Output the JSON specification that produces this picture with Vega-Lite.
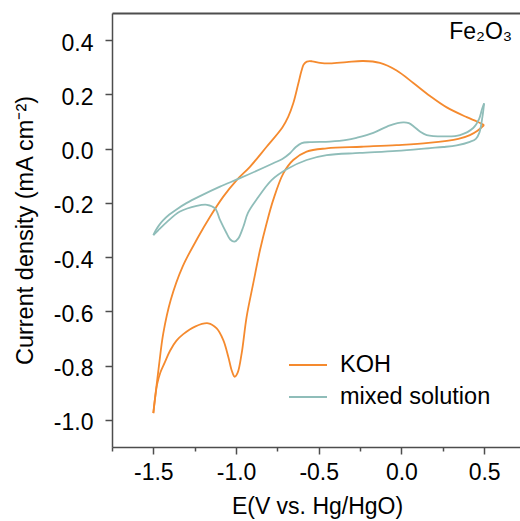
{
  "$schema": "https://vega.github.io/schema/vega-lite/v6.json",
  "width": 408,
  "height": 434,
  "autosize": {"type": "none"},
  "padding": {"left": 112, "top": 13, "right": 0, "bottom": 74},
  "config": {"view": {"stroke": null}, "font": "Liberation Sans"},
  "layer": [
    {
      "data": {"values": [
        {"s":"KOH","b":"lo","i":1,"x":-1.500,"y":-0.975},
        {"s":"KOH","b":"lo","i":2,"x":-1.490,"y":-0.922},
        {"s":"KOH","b":"lo","i":3,"x":-1.477,"y":-0.868},
        {"s":"KOH","b":"lo","i":4,"x":-1.458,"y":-0.826},
        {"s":"KOH","b":"lo","i":5,"x":-1.432,"y":-0.790},
        {"s":"KOH","b":"lo","i":6,"x":-1.399,"y":-0.745},
        {"s":"KOH","b":"lo","i":7,"x":-1.360,"y":-0.708},
        {"s":"KOH","b":"lo","i":8,"x":-1.319,"y":-0.684},
        {"s":"KOH","b":"lo","i":9,"x":-1.248,"y":-0.656},
        {"s":"KOH","b":"lo","i":10,"x":-1.168,"y":-0.644},
        {"s":"KOH","b":"lo","i":11,"x":-1.117,"y":-0.663},
        {"s":"KOH","b":"lo","i":12,"x":-1.077,"y":-0.706},
        {"s":"KOH","b":"lo","i":13,"x":-1.047,"y":-0.767},
        {"s":"KOH","b":"lo","i":14,"x":-1.025,"y":-0.820},
        {"s":"KOH","b":"lo","i":15,"x":-1.008,"y":-0.841},
        {"s":"KOH","b":"lo","i":16,"x":-0.990,"y":-0.826},
        {"s":"KOH","b":"lo","i":17,"x":-0.966,"y":-0.755},
        {"s":"KOH","b":"lo","i":18,"x":-0.936,"y":-0.620},
        {"s":"KOH","b":"lo","i":19,"x":-0.896,"y":-0.497},
        {"s":"KOH","b":"lo","i":20,"x":-0.855,"y":-0.374},
        {"s":"KOH","b":"lo","i":21,"x":-0.815,"y":-0.275},
        {"s":"KOH","b":"lo","i":22,"x":-0.775,"y":-0.189},
        {"s":"KOH","b":"lo","i":23,"x":-0.714,"y":-0.091},
        {"s":"KOH","b":"lo","i":24,"x":-0.654,"y":-0.042},
        {"s":"KOH","b":"lo","i":25,"x":-0.573,"y":-0.011},
        {"s":"KOH","b":"lo","i":26,"x":-0.452,"y":0.001},
        {"s":"KOH","b":"lo","i":27,"x":-0.241,"y":0.007},
        {"s":"KOH","b":"lo","i":28,"x":-0.029,"y":0.013},
        {"s":"KOH","b":"lo","i":29,"x":0.163,"y":0.021},
        {"s":"KOH","b":"lo","i":30,"x":0.344,"y":0.036},
        {"s":"KOH","b":"lo","i":31,"x":0.414,"y":0.050},
        {"s":"KOH","b":"lo","i":32,"x":0.460,"y":0.066},
        {"s":"KOH","b":"lo","i":33,"x":0.500,"y":0.087},
        {"s":"KOH","b":"up","i":1,"x":0.500,"y":0.087},
        {"s":"KOH","b":"up","i":2,"x":0.457,"y":0.100},
        {"s":"KOH","b":"up","i":3,"x":0.395,"y":0.116},
        {"s":"KOH","b":"up","i":4,"x":0.274,"y":0.152},
        {"s":"KOH","b":"up","i":5,"x":0.173,"y":0.194},
        {"s":"KOH","b":"up","i":6,"x":0.072,"y":0.242},
        {"s":"KOH","b":"up","i":7,"x":-0.029,"y":0.288},
        {"s":"KOH","b":"up","i":8,"x":-0.130,"y":0.316},
        {"s":"KOH","b":"up","i":9,"x":-0.231,"y":0.323},
        {"s":"KOH","b":"up","i":10,"x":-0.331,"y":0.319},
        {"s":"KOH","b":"up","i":11,"x":-0.432,"y":0.314},
        {"s":"KOH","b":"up","i":12,"x":-0.492,"y":0.316},
        {"s":"KOH","b":"up","i":13,"x":-0.540,"y":0.322},
        {"s":"KOH","b":"up","i":14,"x":-0.572,"y":0.321},
        {"s":"KOH","b":"up","i":15,"x":-0.591,"y":0.310},
        {"s":"KOH","b":"up","i":16,"x":-0.605,"y":0.285},
        {"s":"KOH","b":"up","i":17,"x":-0.623,"y":0.241},
        {"s":"KOH","b":"up","i":18,"x":-0.654,"y":0.167},
        {"s":"KOH","b":"up","i":19,"x":-0.684,"y":0.118},
        {"s":"KOH","b":"up","i":20,"x":-0.720,"y":0.078},
        {"s":"KOH","b":"up","i":21,"x":-0.815,"y":0.007},
        {"s":"KOH","b":"up","i":22,"x":-0.916,"y":-0.067},
        {"s":"KOH","b":"up","i":23,"x":-0.996,"y":-0.116},
        {"s":"KOH","b":"up","i":24,"x":-1.077,"y":-0.177},
        {"s":"KOH","b":"up","i":25,"x":-1.157,"y":-0.251},
        {"s":"KOH","b":"up","i":26,"x":-1.228,"y":-0.325},
        {"s":"KOH","b":"up","i":27,"x":-1.323,"y":-0.435},
        {"s":"KOH","b":"up","i":28,"x":-1.395,"y":-0.558},
        {"s":"KOH","b":"up","i":29,"x":-1.440,"y":-0.681},
        {"s":"KOH","b":"up","i":30,"x":-1.466,"y":-0.800},
        {"s":"KOH","b":"up","i":31,"x":-1.486,"y":-0.900},
        {"s":"KOH","b":"up","i":32,"x":-1.500,"y":-0.975},
        {"s":"mixed solution","b":"up","i":1,"x":-1.500,"y":-0.319},
        {"s":"mixed solution","b":"up","i":2,"x":-1.486,"y":-0.302},
        {"s":"mixed solution","b":"up","i":3,"x":-1.466,"y":-0.283},
        {"s":"mixed solution","b":"up","i":4,"x":-1.440,"y":-0.264},
        {"s":"mixed solution","b":"up","i":5,"x":-1.405,"y":-0.244},
        {"s":"mixed solution","b":"up","i":6,"x":-1.360,"y":-0.224},
        {"s":"mixed solution","b":"up","i":7,"x":-1.300,"y":-0.201},
        {"s":"mixed solution","b":"up","i":8,"x":-1.218,"y":-0.175},
        {"s":"mixed solution","b":"up","i":9,"x":-1.097,"y":-0.140},
        {"s":"mixed solution","b":"up","i":10,"x":-0.976,"y":-0.109},
        {"s":"mixed solution","b":"up","i":11,"x":-0.775,"y":-0.054},
        {"s":"mixed solution","b":"up","i":12,"x":-0.720,"y":-0.038},
        {"s":"mixed solution","b":"up","i":13,"x":-0.674,"y":-0.017},
        {"s":"mixed solution","b":"up","i":14,"x":-0.640,"y":0.005},
        {"s":"mixed solution","b":"up","i":15,"x":-0.603,"y":0.020},
        {"s":"mixed solution","b":"up","i":16,"x":-0.553,"y":0.024},
        {"s":"mixed solution","b":"up","i":17,"x":-0.432,"y":0.026},
        {"s":"mixed solution","b":"up","i":18,"x":-0.331,"y":0.032},
        {"s":"mixed solution","b":"up","i":19,"x":-0.271,"y":0.040},
        {"s":"mixed solution","b":"up","i":20,"x":-0.170,"y":0.058},
        {"s":"mixed solution","b":"up","i":21,"x":-0.069,"y":0.086},
        {"s":"mixed solution","b":"up","i":22,"x":0.011,"y":0.097},
        {"s":"mixed solution","b":"up","i":23,"x":0.045,"y":0.094},
        {"s":"mixed solution","b":"up","i":24,"x":0.080,"y":0.079},
        {"s":"mixed solution","b":"up","i":25,"x":0.112,"y":0.063},
        {"s":"mixed solution","b":"up","i":26,"x":0.153,"y":0.050},
        {"s":"mixed solution","b":"up","i":27,"x":0.274,"y":0.045},
        {"s":"mixed solution","b":"up","i":28,"x":0.354,"y":0.050},
        {"s":"mixed solution","b":"up","i":29,"x":0.434,"y":0.076},
        {"s":"mixed solution","b":"up","i":30,"x":0.470,"y":0.110},
        {"s":"mixed solution","b":"up","i":31,"x":0.487,"y":0.145},
        {"s":"mixed solution","b":"up","i":32,"x":0.500,"y":0.167},
        {"s":"mixed solution","b":"lo","i":1,"x":0.500,"y":0.167},
        {"s":"mixed solution","b":"lo","i":2,"x":0.490,"y":0.118},
        {"s":"mixed solution","b":"lo","i":3,"x":0.472,"y":0.060},
        {"s":"mixed solution","b":"lo","i":4,"x":0.450,"y":0.036},
        {"s":"mixed solution","b":"lo","i":5,"x":0.414,"y":0.025},
        {"s":"mixed solution","b":"lo","i":6,"x":0.334,"y":0.012},
        {"s":"mixed solution","b":"lo","i":7,"x":0.253,"y":0.006},
        {"s":"mixed solution","b":"lo","i":8,"x":0.173,"y":0.002},
        {"s":"mixed solution","b":"lo","i":9,"x":-0.029,"y":-0.008},
        {"s":"mixed solution","b":"lo","i":10,"x":-0.251,"y":-0.016},
        {"s":"mixed solution","b":"lo","i":11,"x":-0.452,"y":-0.024},
        {"s":"mixed solution","b":"lo","i":12,"x":-0.573,"y":-0.042},
        {"s":"mixed solution","b":"lo","i":13,"x":-0.694,"y":-0.076},
        {"s":"mixed solution","b":"lo","i":14,"x":-0.785,"y":-0.116},
        {"s":"mixed solution","b":"lo","i":15,"x":-0.875,"y":-0.187},
        {"s":"mixed solution","b":"lo","i":16,"x":-0.928,"y":-0.237},
        {"s":"mixed solution","b":"lo","i":17,"x":-0.956,"y":-0.288},
        {"s":"mixed solution","b":"lo","i":18,"x":-0.986,"y":-0.331},
        {"s":"mixed solution","b":"lo","i":19,"x":-1.010,"y":-0.343},
        {"s":"mixed solution","b":"lo","i":20,"x":-1.035,"y":-0.335},
        {"s":"mixed solution","b":"lo","i":21,"x":-1.057,"y":-0.312},
        {"s":"mixed solution","b":"lo","i":22,"x":-1.097,"y":-0.263},
        {"s":"mixed solution","b":"lo","i":23,"x":-1.127,"y":-0.220},
        {"s":"mixed solution","b":"lo","i":24,"x":-1.176,"y":-0.207},
        {"s":"mixed solution","b":"lo","i":25,"x":-1.238,"y":-0.211},
        {"s":"mixed solution","b":"lo","i":26,"x":-1.339,"y":-0.232},
        {"s":"mixed solution","b":"lo","i":27,"x":-1.419,"y":-0.271},
        {"s":"mixed solution","b":"lo","i":28,"x":-1.472,"y":-0.302},
        {"s":"mixed solution","b":"lo","i":29,"x":-1.500,"y":-0.319}
      ]},
      "mark": {"type": "line", "strokeWidth": 1.8, "interpolate": "catmull-rom"},
      "encoding": {
        "x": {
          "field": "x", "type": "quantitative",
          "scale": {"domain": [-1.75, 0.717], "nice": false, "zero": false},
          "axis": {
            "orient": "bottom",
            "values": [-1.75, -1.5, -1.25, -1.0, -0.75, -0.5, -0.25, 0, 0.25, 0.5],
            "labelExpr": "abs(datum.value*2 - round(datum.value*2)) < 0.01 ? (datum.value < 0 ? '-' : '') + format(abs(datum.value), '.1f') : ''",
            "tickSize": {"condition": {"test": "abs(datum.value*2 - round(datum.value*2)) < 0.01", "value": 7}, "value": 4},
            "grid": false,
            "labelFontSize": 23, "labelColor": "#000000", "labelPadding": 7, "labelFont": "Liberation Sans",
            "domainColor": "#4d4d4d", "domainWidth": 1.5, "tickColor": "#4d4d4d", "tickWidth": 1.5,
            "title": "E(V vs. Hg/HgO)", "titleFontSize": 23, "titleFontWeight": "normal", "titleColor": "#000000",
            "titleFont": "Liberation Sans", "titleBaseline": "alphabetic", "titleY": 66, "titleX": 205
          }
        },
        "y": {
          "field": "y", "type": "quantitative",
          "scale": {"domain": [-1.1, 0.5], "nice": false, "zero": false},
          "axis": {
            "orient": "left",
            "values": [-1.0, -0.9, -0.8, -0.7, -0.6, -0.5, -0.4, -0.3, -0.2, -0.1, 0, 0.1, 0.2, 0.3, 0.4],
            "labelExpr": "abs(datum.value*5 - round(datum.value*5)) < 0.01 ? (datum.value < -0.001 ? '-' : '') + format(abs(datum.value), '.1f') : ''",
            "tickSize": {"condition": {"test": "abs(datum.value*5 - round(datum.value*5)) < 0.01", "value": 7}, "value": 4},
            "grid": false,
            "labelFontSize": 23, "labelColor": "#000000", "labelPadding": 12, "labelOffset": 3, "labelFont": "Liberation Sans",
            "domainColor": "#4d4d4d", "domainWidth": 1.5, "tickColor": "#4d4d4d", "tickWidth": 1.5,
            "title": "Current density (mA cm⁻²)", "titleFontSize": 23.5, "titleFontWeight": "normal", "titleColor": "#000000",
            "titleFont": "Liberation Sans", "titleAngle": 270, "titleBaseline": "alphabetic", "titleX": -80, "titleY": 217
          }
        },
        "color": {
          "field": "s", "type": "nominal",
          "scale": {"domain": ["KOH", "mixed solution"], "range": ["#F58A2E", "#8FBDB9"]},
          "legend": {
            "orient": "none", "legendX": 176, "legendY": 332, "title": null,
            "symbolType": "stroke", "symbolSize": 1444, "symbolStrokeWidth": 2,
            "labelFontSize": 23.5, "labelFont": "Liberation Sans", "labelColor": "#000000",
            "labelOffset": 12, "rowPadding": -5, "padding": 0
          }
        },
        "detail": {"field": "b"},
        "order": {"field": "i", "type": "quantitative"}
      }
    },
    {
      "data": {"values": [{"label": "Fe₂O₃"}]},
      "mark": {"type": "text", "align": "right", "baseline": "alphabetic", "fontSize": 23, "font": "Liberation Sans", "fontWeight": "normal", "fill": "#000000"},
      "encoding": {
        "text": {"field": "label", "type": "nominal"},
        "x": {"datum": 0.67, "type": "quantitative",
          "axis": {"orient": "top", "labels": false, "ticks": false, "title": null, "grid": false, "domainColor": "#4d4d4d", "domainWidth": 2}},
        "y": {"datum": 0.405, "type": "quantitative", "title": null}
      }
    }
  ],
  "resolve": {"axis": {"x": "independent"}}
}
